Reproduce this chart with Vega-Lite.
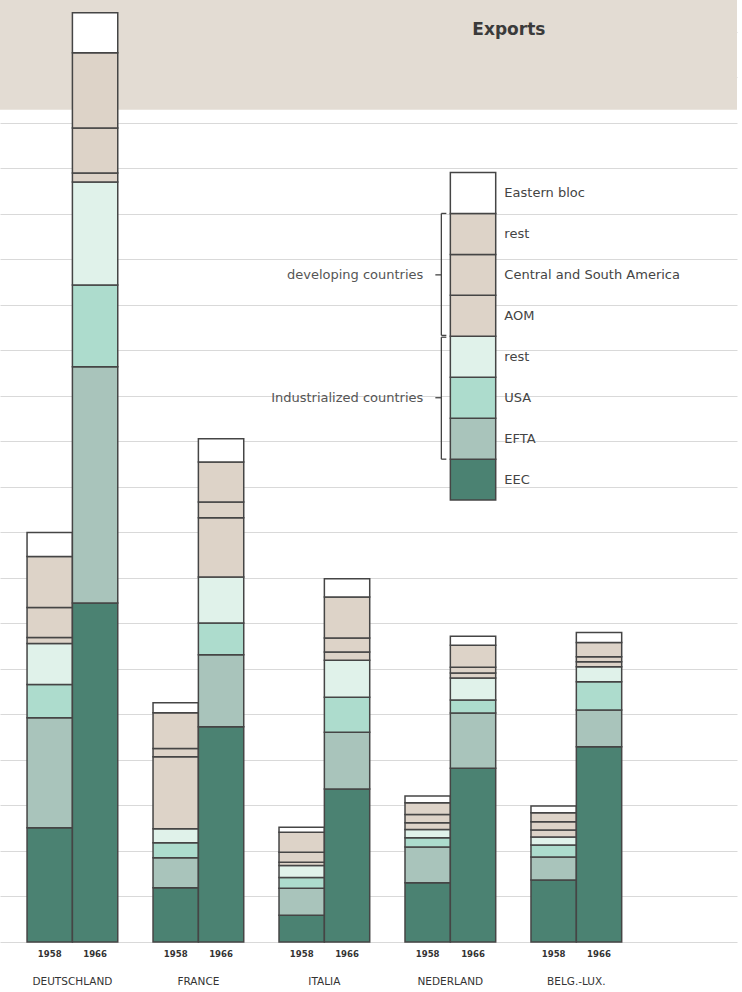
{
  "$schema": "https://vega.github.io/schema/vega-lite/v6.json",
  "width": 737,
  "height": 942,
  "padding": {"left": 0, "top": 0, "right": 5, "bottom": 0},
  "background": "#ffffff",
  "config": {"view": {"stroke": null}},
  "datasets": {
    "bars": [
      {"country": "DEUTSCHLAND", "year": "1958", "cat": "EEC", "o": 1, "v": 2.51},
      {"country": "DEUTSCHLAND", "year": "1958", "cat": "EFTA", "o": 2, "v": 2.42},
      {"country": "DEUTSCHLAND", "year": "1958", "cat": "USA", "o": 3, "v": 0.73},
      {"country": "DEUTSCHLAND", "year": "1958", "cat": "ind_rest", "o": 4, "v": 0.90},
      {"country": "DEUTSCHLAND", "year": "1958", "cat": "AOM", "o": 5, "v": 0.13},
      {"country": "DEUTSCHLAND", "year": "1958", "cat": "CSA", "o": 6, "v": 0.66},
      {"country": "DEUTSCHLAND", "year": "1958", "cat": "dev_rest", "o": 7, "v": 1.12},
      {"country": "DEUTSCHLAND", "year": "1958", "cat": "EB", "o": 8, "v": 0.53},
      {"country": "DEUTSCHLAND", "year": "1966", "cat": "EEC", "o": 1, "v": 7.45},
      {"country": "DEUTSCHLAND", "year": "1966", "cat": "EFTA", "o": 2, "v": 5.19},
      {"country": "DEUTSCHLAND", "year": "1966", "cat": "USA", "o": 3, "v": 1.80},
      {"country": "DEUTSCHLAND", "year": "1966", "cat": "ind_rest", "o": 4, "v": 2.26},
      {"country": "DEUTSCHLAND", "year": "1966", "cat": "AOM", "o": 5, "v": 0.20},
      {"country": "DEUTSCHLAND", "year": "1966", "cat": "CSA", "o": 6, "v": 0.99},
      {"country": "DEUTSCHLAND", "year": "1966", "cat": "dev_rest", "o": 7, "v": 1.65},
      {"country": "DEUTSCHLAND", "year": "1966", "cat": "EB", "o": 8, "v": 0.88},
      {"country": "FRANCE", "year": "1958", "cat": "EEC", "o": 1, "v": 1.19},
      {"country": "FRANCE", "year": "1958", "cat": "EFTA", "o": 2, "v": 0.66},
      {"country": "FRANCE", "year": "1958", "cat": "USA", "o": 3, "v": 0.33},
      {"country": "FRANCE", "year": "1958", "cat": "ind_rest", "o": 4, "v": 0.31},
      {"country": "FRANCE", "year": "1958", "cat": "AOM", "o": 5, "v": 1.58},
      {"country": "FRANCE", "year": "1958", "cat": "CSA", "o": 6, "v": 0.18},
      {"country": "FRANCE", "year": "1958", "cat": "dev_rest", "o": 7, "v": 0.79},
      {"country": "FRANCE", "year": "1958", "cat": "EB", "o": 8, "v": 0.22},
      {"country": "FRANCE", "year": "1966", "cat": "EEC", "o": 1, "v": 4.73},
      {"country": "FRANCE", "year": "1966", "cat": "EFTA", "o": 2, "v": 1.58},
      {"country": "FRANCE", "year": "1966", "cat": "USA", "o": 3, "v": 0.70},
      {"country": "FRANCE", "year": "1966", "cat": "ind_rest", "o": 4, "v": 1.01},
      {"country": "FRANCE", "year": "1966", "cat": "AOM", "o": 5, "v": 1.30},
      {"country": "FRANCE", "year": "1966", "cat": "CSA", "o": 6, "v": 0.35},
      {"country": "FRANCE", "year": "1966", "cat": "dev_rest", "o": 7, "v": 0.88},
      {"country": "FRANCE", "year": "1966", "cat": "EB", "o": 8, "v": 0.51},
      {"country": "ITALIA", "year": "1958", "cat": "EEC", "o": 1, "v": 0.59},
      {"country": "ITALIA", "year": "1958", "cat": "EFTA", "o": 2, "v": 0.59},
      {"country": "ITALIA", "year": "1958", "cat": "USA", "o": 3, "v": 0.24},
      {"country": "ITALIA", "year": "1958", "cat": "ind_rest", "o": 4, "v": 0.26},
      {"country": "ITALIA", "year": "1958", "cat": "AOM", "o": 5, "v": 0.07},
      {"country": "ITALIA", "year": "1958", "cat": "CSA", "o": 6, "v": 0.22},
      {"country": "ITALIA", "year": "1958", "cat": "dev_rest", "o": 7, "v": 0.44},
      {"country": "ITALIA", "year": "1958", "cat": "EB", "o": 8, "v": 0.11},
      {"country": "ITALIA", "year": "1966", "cat": "EEC", "o": 1, "v": 3.36},
      {"country": "ITALIA", "year": "1966", "cat": "EFTA", "o": 2, "v": 1.25},
      {"country": "ITALIA", "year": "1966", "cat": "USA", "o": 3, "v": 0.77},
      {"country": "ITALIA", "year": "1966", "cat": "ind_rest", "o": 4, "v": 0.81},
      {"country": "ITALIA", "year": "1966", "cat": "AOM", "o": 5, "v": 0.18},
      {"country": "ITALIA", "year": "1966", "cat": "CSA", "o": 6, "v": 0.31},
      {"country": "ITALIA", "year": "1966", "cat": "dev_rest", "o": 7, "v": 0.90},
      {"country": "ITALIA", "year": "1966", "cat": "EB", "o": 8, "v": 0.40},
      {"country": "NEDERLAND", "year": "1958", "cat": "EEC", "o": 1, "v": 1.30},
      {"country": "NEDERLAND", "year": "1958", "cat": "EFTA", "o": 2, "v": 0.79},
      {"country": "NEDERLAND", "year": "1958", "cat": "USA", "o": 3, "v": 0.20},
      {"country": "NEDERLAND", "year": "1958", "cat": "ind_rest", "o": 4, "v": 0.18},
      {"country": "NEDERLAND", "year": "1958", "cat": "AOM", "o": 5, "v": 0.15},
      {"country": "NEDERLAND", "year": "1958", "cat": "CSA", "o": 6, "v": 0.18},
      {"country": "NEDERLAND", "year": "1958", "cat": "dev_rest", "o": 7, "v": 0.26},
      {"country": "NEDERLAND", "year": "1958", "cat": "EB", "o": 8, "v": 0.15},
      {"country": "NEDERLAND", "year": "1966", "cat": "EEC", "o": 1, "v": 3.82},
      {"country": "NEDERLAND", "year": "1966", "cat": "EFTA", "o": 2, "v": 1.21},
      {"country": "NEDERLAND", "year": "1966", "cat": "USA", "o": 3, "v": 0.29},
      {"country": "NEDERLAND", "year": "1966", "cat": "ind_rest", "o": 4, "v": 0.48},
      {"country": "NEDERLAND", "year": "1966", "cat": "AOM", "o": 5, "v": 0.11},
      {"country": "NEDERLAND", "year": "1966", "cat": "CSA", "o": 6, "v": 0.13},
      {"country": "NEDERLAND", "year": "1966", "cat": "dev_rest", "o": 7, "v": 0.48},
      {"country": "NEDERLAND", "year": "1966", "cat": "EB", "o": 8, "v": 0.20},
      {"country": "BELG.-LUX.", "year": "1958", "cat": "EEC", "o": 1, "v": 1.36},
      {"country": "BELG.-LUX.", "year": "1958", "cat": "EFTA", "o": 2, "v": 0.51},
      {"country": "BELG.-LUX.", "year": "1958", "cat": "USA", "o": 3, "v": 0.26},
      {"country": "BELG.-LUX.", "year": "1958", "cat": "ind_rest", "o": 4, "v": 0.18},
      {"country": "BELG.-LUX.", "year": "1958", "cat": "AOM", "o": 5, "v": 0.15},
      {"country": "BELG.-LUX.", "year": "1958", "cat": "CSA", "o": 6, "v": 0.18},
      {"country": "BELG.-LUX.", "year": "1958", "cat": "dev_rest", "o": 7, "v": 0.20},
      {"country": "BELG.-LUX.", "year": "1958", "cat": "EB", "o": 8, "v": 0.15},
      {"country": "BELG.-LUX.", "year": "1966", "cat": "EEC", "o": 1, "v": 4.29},
      {"country": "BELG.-LUX.", "year": "1966", "cat": "EFTA", "o": 2, "v": 0.81},
      {"country": "BELG.-LUX.", "year": "1966", "cat": "USA", "o": 3, "v": 0.62},
      {"country": "BELG.-LUX.", "year": "1966", "cat": "ind_rest", "o": 4, "v": 0.33},
      {"country": "BELG.-LUX.", "year": "1966", "cat": "AOM", "o": 5, "v": 0.11},
      {"country": "BELG.-LUX.", "year": "1966", "cat": "CSA", "o": 6, "v": 0.11},
      {"country": "BELG.-LUX.", "year": "1966", "cat": "dev_rest", "o": 7, "v": 0.31},
      {"country": "BELG.-LUX.", "year": "1966", "cat": "EB", "o": 8, "v": 0.22}
    ],
    "years": [
      {"country": "DEUTSCHLAND", "year": "1958"}, {"country": "DEUTSCHLAND", "year": "1966"},
      {"country": "FRANCE", "year": "1958"}, {"country": "FRANCE", "year": "1966"},
      {"country": "ITALIA", "year": "1958"}, {"country": "ITALIA", "year": "1966"},
      {"country": "NEDERLAND", "year": "1958"}, {"country": "NEDERLAND", "year": "1966"},
      {"country": "BELG.-LUX.", "year": "1958"}, {"country": "BELG.-LUX.", "year": "1966"}
    ],
    "legend": [
      {"cat": "EEC", "label": "EEC", "lo": 9.71, "hi": 10.61, "mid": 10.16},
      {"cat": "EFTA", "label": "EFTA", "lo": 10.61, "hi": 11.51, "mid": 11.06},
      {"cat": "USA", "label": "USA", "lo": 11.51, "hi": 12.41, "mid": 11.96},
      {"cat": "ind_rest", "label": "rest", "lo": 12.41, "hi": 13.31, "mid": 12.86},
      {"cat": "AOM", "label": "AOM", "lo": 13.31, "hi": 14.21, "mid": 13.76},
      {"cat": "CSA", "label": "Central and South America", "lo": 14.21, "hi": 15.11, "mid": 14.66},
      {"cat": "dev_rest", "label": "rest", "lo": 15.11, "hi": 16.01, "mid": 15.56},
      {"cat": "EB", "label": "Eastern bloc", "lo": 16.01, "hi": 16.91, "mid": 16.46}
    ],
    "groups": [
      {"label": "developing countries", "lo": 13.33, "hi": 16.01, "mid": 14.66},
      {"label": "Industrialized countries", "lo": 10.61, "hi": 13.29, "mid": 11.96}
    ],
    "hooks": [
      {"y": 13.33}, {"y": 16.01}, {"y": 10.61}, {"y": 13.29}
    ]
  },
  "layer": [
    {
      "data": {"values": [{"lo": 18.29, "hi": 20.7}]},
      "mark": {"type": "rect", "color": "#e3dcd3"},
      "encoding": {
        "y": {"field": "lo", "type": "quantitative",
              "scale": {"domain": [0, 20.7], "nice": false, "zero": true},
              "axis": {"grid": true, "labels": false, "ticks": false, "domain": false, "title": null,
                       "values": [0,1,2,3,4,5,6,7,8,9,10,11,12,13,14,15,16,17,18,19,20],
                       "gridColor": "#d9d9d9", "gridWidth": 1}},
        "y2": {"field": "hi"}
      }
    },
    {
      "data": {"values": [{"t": "Exports"}]},
      "mark": {"type": "text", "align": "left", "baseline": "middle", "dx": 22, "font": "DejaVu Sans", "fontWeight": "bold", "fontSize": 17, "color": "#3a3a3a"},
      "encoding": {
        "x": {"datum": "NEDERLAND", "type": "nominal"},
        "y": {"datum": 20.05, "type": "quantitative"},
        "text": {"field": "t"}
      }
    },
    {
      "data": {"name": "bars"},
      "mark": {"type": "bar", "stroke": "#454545", "strokeWidth": 1.5},
      "encoding": {
        "x": {"field": "country", "type": "nominal",
              "sort": ["DEUTSCHLAND", "FRANCE", "ITALIA", "NEDERLAND", "BELG.-LUX."],
              "scale": {"domain": ["DEUTSCHLAND", "FRANCE", "ITALIA", "NEDERLAND", "BELG.-LUX."], "paddingInner": 0.28, "paddingOuter": 0.565, "align": 0.19},
              "axis": {"title": null, "ticks": false, "domain": false, "labelPadding": 34, "labelAlign": "center", "labelBaseline": "top", "labelFont": "DejaVu Sans", "labelFontSize": 10.5, "labelColor": "#333333", "labelAngle": 0}},
        "xOffset": {"field": "year", "type": "nominal", "scale": {"domain": ["1958", "1966"], "paddingInner": 0, "paddingOuter": 0}},
        "y": {"field": "v", "type": "quantitative", "aggregate": "sum", "stack": "zero"},
        "order": {"field": "o", "type": "quantitative"},
        "color": {"field": "cat", "type": "nominal", "legend": null,
                  "scale": {"domain": ["EEC", "EFTA", "USA", "ind_rest", "AOM", "CSA", "dev_rest", "EB"],
                            "range": ["#4b8272", "#a9c4bb", "#addccd", "#e0f2ea", "#ddd3c8", "#ddd3c8", "#ddd3c8", "#ffffff"]}}
      }
    },
    {
      "data": {"name": "years"},
      "mark": {"type": "text", "baseline": "middle", "dy": 12, "font": "DejaVu Sans Condensed", "fontWeight": "bold", "fontSize": 9.5, "color": "#333333"},
      "encoding": {
        "x": {"field": "country", "type": "nominal"},
        "xOffset": {"field": "year", "type": "nominal"},
        "y": {"datum": 0, "type": "quantitative"},
        "text": {"field": "year"}
      }
    },
    {
      "data": {"name": "legend"},
      "mark": {"type": "bar", "stroke": "#454545", "strokeWidth": 1.5},
      "encoding": {
        "x": {"datum": "NEDERLAND", "type": "nominal"},
        "xOffset": {"datum": "1966", "type": "nominal"},
        "y": {"field": "lo", "type": "quantitative"},
        "y2": {"field": "hi"},
        "color": {"field": "cat", "type": "nominal", "legend": null}
      }
    },
    {
      "data": {"name": "legend"},
      "mark": {"type": "text", "align": "left", "baseline": "middle", "dx": 54, "font": "DejaVu Sans", "fontSize": 13, "color": "#444444"},
      "encoding": {
        "x": {"datum": "NEDERLAND", "type": "nominal"},
        "y": {"field": "mid", "type": "quantitative"},
        "text": {"field": "label"}
      }
    },
    {
      "data": {"name": "groups"},
      "mark": {"type": "text", "align": "right", "baseline": "middle", "dx": -27, "font": "DejaVu Sans", "fontSize": 13, "color": "#555555"},
      "encoding": {
        "x": {"datum": "NEDERLAND", "type": "nominal"},
        "y": {"field": "mid", "type": "quantitative"},
        "text": {"field": "label"}
      }
    },
    {
      "data": {"name": "groups"},
      "mark": {"type": "rule", "xOffset": -9, "stroke": "#444444", "strokeWidth": 1.3},
      "encoding": {
        "x": {"datum": "NEDERLAND", "type": "nominal"},
        "y": {"field": "lo", "type": "quantitative"},
        "y2": {"field": "hi"}
      }
    },
    {
      "data": {"name": "groups"},
      "mark": {"type": "rule", "xOffset": -15, "x2Offset": -9, "stroke": "#444444", "strokeWidth": 1.3},
      "encoding": {
        "x": {"datum": "NEDERLAND", "type": "nominal"},
        "x2": {"datum": "NEDERLAND"},
        "y": {"field": "mid", "type": "quantitative"}
      }
    },
    {
      "data": {"name": "hooks"},
      "mark": {"type": "rule", "xOffset": -9, "x2Offset": -4, "stroke": "#444444", "strokeWidth": 1.3},
      "encoding": {
        "x": {"datum": "NEDERLAND", "type": "nominal"},
        "x2": {"datum": "NEDERLAND"},
        "y": {"field": "y", "type": "quantitative"}
      }
    }
  ]
}
